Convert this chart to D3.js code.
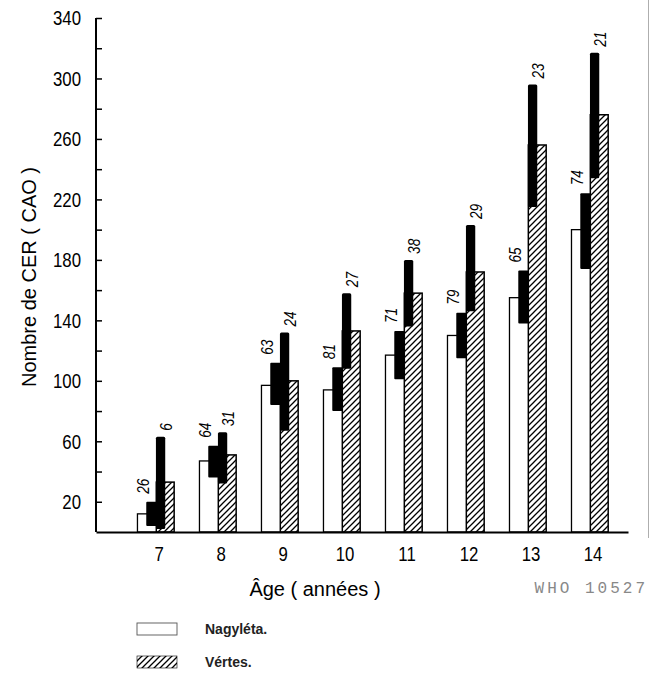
<!DOCTYPE html>
<html>
<head>
<meta charset="utf-8">
<script src="https://cdn.jsdelivr.net/npm/d3@7"></script>
<style>
  html, body { margin: 0; padding: 0; background: #fff; }
  svg { display: block; }
  .sans { font-family: "Liberation Sans", Arial, Helvetica, sans-serif; }
</style>
</head>
<body>
<svg id="chart" width="650" height="682"></svg>
<script>
// Age groups (years)
const ages = [7, 8, 9, 10, 11, 12, 13, 14];

// Nagyléta: mean DMF count and the interval drawn as a black block
const nagyletaMean = [12, 47, 97, 94, 117, 130, 155, 200];
const nagyletaLow  = [4, 36, 84, 80, 101, 115, 138, 174];
const nagyletaHigh = [20, 57, 112, 109, 133, 145, 173, 224];
const nagyletaN    = [26, 64, 63, 81, 71, 79, 65, 74];

// Vértes: mean DMF count and interval
const vertesMean = [33, 51, 100, 133, 158, 172, 256, 276];
const vertesLow  = [2, 32, 67, 108, 136, 146, 215, 234];
const vertesHigh = [63, 66, 132, 158, 180, 203, 296, 317];
const vertesN    = [6, 31, 24, 27, 38, 29, 23, 21];

// Axis ticks
const yTicks = d3.range(20, 341, 20);
const yTickLabels = [20, 60, 100, 140, 180, 220, 260, 300, 340];

const legendLabels = ["Nagyléta.", "Vértes."];

const svg = d3.select("#chart");

// squeeze text horizontally (along its own writing direction)
function condense(sel, k) {
  sel.each(function () {
    const t = d3.select(this);
    const xv = +t.attr("x") || 0;
    t.attr("x", xv / k);
    const prev = t.attr("transform") || "";
    t.attr("transform", (prev + ` scale(${k},1)`).trim());
  });
}

const x = d3.scaleBand()
  .domain(ages)
  .range([96, 628])
  .paddingInner(0.4)
  .paddingOuter(0.49)
  .align(0.674);

const y = d3.scaleLinear().domain([0, 340]).range([532, 18]);

const bw = x.bandwidth();

// hatch pattern for Vértes
const defs = svg.append("defs");
const pat = defs.append("pattern")
  .attr("id", "hatch")
  .attr("patternUnits", "userSpaceOnUse")
  .attr("width", 6).attr("height", 6);
pat.append("rect").attr("width", 6).attr("height", 6).attr("fill", "#fff");
pat.append("path")
  .attr("d", "M-1,1 l2,-2 M0,6 l6,-6 M5,7 l2,-2")
  .attr("stroke", "#000").attr("stroke-width", 1.3);

const rows = ages.map((a, i) => ({
  age: a,
  nm: nagyletaMean[i], nl: nagyletaLow[i], nh: nagyletaHigh[i], nn: nagyletaN[i],
  vm: vertesMean[i], vl: vertesLow[i], vh: vertesHigh[i], vn: vertesN[i]
}));

const g = svg.append("g");

// white bars (Nagyléta)
g.selectAll("rect.nag").data(rows).join("rect")
  .attr("class", "nag")
  .attr("x", d => x(d.age) + 0.5)
  .attr("y", d => y(d.nm))
  .attr("width", bw * 0.53)
  .attr("height", d => y(0) - y(d.nm))
  .attr("fill", "#fff").attr("stroke", "#000").attr("stroke-width", 1.3);

// hatched bars (Vértes)
g.selectAll("rect.ver").data(rows).join("rect")
  .attr("class", "ver")
  .attr("x", d => x(d.age) + bw * 0.52)
  .attr("y", d => y(d.vm))
  .attr("width", bw * 0.48)
  .attr("height", d => y(0) - y(d.vm))
  .attr("fill", "url(#hatch)").attr("stroke", "#000").attr("stroke-width", 1.5);

// interval blocks
g.selectAll("rect.nagci").data(rows).join("rect")
  .attr("class", "nagci")
  .attr("x", d => x(d.age) + bw * 0.25)
  .attr("y", d => y(d.nh))
  .attr("width", bw * 0.28)
  .attr("height", d => y(d.nl) - y(d.nh))
  .attr("rx", 1)
  .attr("fill", "#000");

g.selectAll("rect.verci").data(rows).join("rect")
  .attr("class", "verci")
  .attr("x", d => x(d.age) + bw * 0.51)
  .attr("y", d => y(d.vh))
  .attr("width", bw * 0.25)
  .attr("height", d => y(d.vl) - y(d.vh))
  .attr("rx", 1.5)
  .attr("fill", "#000");

// sample sizes, written vertically
const lab = svg.append("g").attr("class", "sans")
  .attr("font-style", "italic").attr("font-size", 17).attr("fill", "#000");

lab.selectAll("text.nn").data(rows).join("text")
  .attr("class", "nn")
  .attr("transform", d => `translate(${x(d.age) + bw * 0.17},${y(d.nh) - 8}) rotate(-90)`)
  .attr("dy", "0.35em")
  .attr("text-anchor", "start")
  .text(d => d.nn);

lab.selectAll("text.vn").data(rows).join("text")
  .attr("class", "vn")
  .attr("transform", d => `translate(${x(d.age) + bw * 0.79},${y(d.vh) - 6}) rotate(-90)`)
  .attr("dy", "0.35em")
  .attr("text-anchor", "start")
  .text(d => d.vn);

condense(lab.selectAll("text"), 0.8);

// y axis
const yAxis = d3.axisLeft(y)
  .tickValues(yTicks)
  .tickSize(-6)
  .tickSizeOuter(0)
  .tickPadding(15)
  .tickFormat(v => yTickLabels.includes(v) ? v : "");

const gy = svg.append("g")
  .attr("transform", "translate(96,0)")
  .call(yAxis);
gy.select(".domain").attr("stroke-width", 2).attr("d", `M0,${y(340)}V${y(0)}`);
gy.selectAll(".tick line").attr("stroke-width", 1.5);
gy.selectAll(".tick text").attr("font-size", 21).attr("fill", "#000")
  .attr("class", "sans").attr("font-family", null);
gy.attr("font-family", null);
condense(gy.selectAll(".tick text"), 0.8);

// x axis
const xAxis = d3.axisBottom(x).tickSize(0).tickSizeOuter(0).tickPadding(14);
const gx = svg.append("g")
  .attr("transform", `translate(0,${y(0)})`)
  .call(xAxis);
gx.attr("font-family", null);
gx.select(".domain").attr("stroke-width", 2);
gx.selectAll(".tick text").attr("font-size", 21).attr("fill", "#000")
  .attr("class", "sans").attr("x", 3.5);
condense(gx.selectAll(".tick text"), 0.8);

// axis titles
svg.append("text").attr("class", "sans")
  .attr("transform", "translate(36,277) rotate(-90)")
  .attr("text-anchor", "middle")
  .attr("font-size", 20)
  .text("Nombre de CER ( CAO )");

svg.append("text").attr("class", "sans")
  .attr("x", 315).attr("y", 596)
  .attr("text-anchor", "middle")
  .attr("font-size", 20)
  .text("Âge ( années )");

svg.append("text")
  .attr("x", 648).attr("y", 593)
  .attr("text-anchor", "end")
  .attr("font-family", "'Liberation Mono', 'DejaVu Sans Mono', monospace")
  .attr("font-size", 16)
  .attr("letter-spacing", 3)
  .attr("fill", "#888")
  .text("WHO 10527");

// thin frame edge on the right
svg.append("line")
  .attr("x1", 648.5).attr("x2", 648.5).attr("y1", 0).attr("y2", 538)
  .attr("stroke", "#999").attr("stroke-width", 0.8);

// legend
const legend = svg.append("g");
const legendY = [623, 656];
legendLabels.forEach((t, i) => {
  legend.append("rect")
    .attr("x", 137).attr("y", legendY[i])
    .attr("width", 40).attr("height", 12)
    .attr("fill", i === 0 ? "#fff" : "url(#hatch)")
    .attr("stroke", i === 0 ? "#555" : "#000")
    .attr("stroke-width", i === 0 ? 0.9 : 0.6);
  legend.append("text")
    .attr("class", "sans")
    .attr("x", 205).attr("y", legendY[i] + 11)
    .attr("font-size", 14)
    .attr("font-weight", "bold")
    .attr("fill", "#222")
    .text(t);
});
</script>
</body>
</html>
